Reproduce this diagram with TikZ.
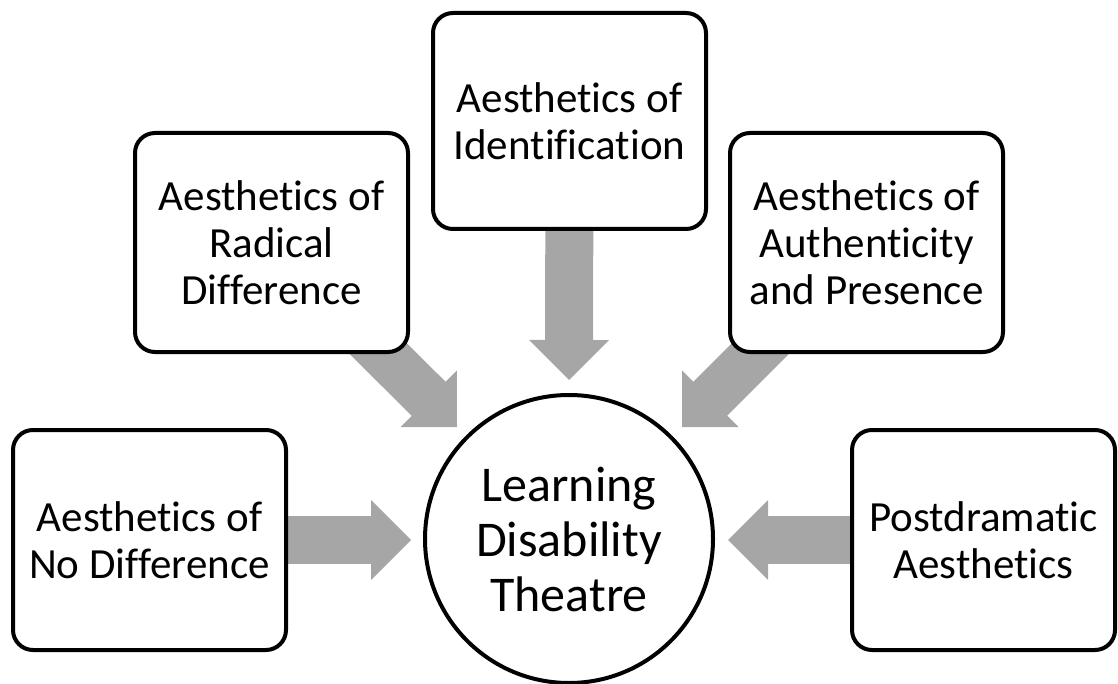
\documentclass[tikz,border=0pt]{standalone}
\usepackage{fontspec}
\setmainfont[Ligatures=NoCommon]{Carlito}
\usetikzlibrary{calc,backgrounds}
\definecolor{arrowgray}{HTML}{A6A6A6}
\tikzset{
  box/.style={draw=black, line width=4pt, rounded corners=20pt, fill=white,
    align=center, inner sep=0pt, font=\fontsize{43}{47}\selectfont},
  hub/.style={draw=black, line width=4pt, circle, fill=white, minimum size=288pt,
    align=center, inner sep=0pt, font=\fontsize{50}{55}\selectfont},
  shaft/.style={draw=arrowgray, line width=48pt},
  head/.style={fill=arrowgray},
}
\newcommand\blockarrow[2]{%
  \coordinate (ba) at ($(#2)!40pt!(#1)$);
  \coordinate (bs) at ($(#2)!38pt!(#1)$);
  \path[shaft] (#1) -- (bs);
  \fill[head] (#2) -- ($(ba)!40pt!90:(#2)$) -- ($(ba)!40pt!-90:(#2)$) -- cycle;
}
\begin{document}
\begin{tikzpicture}[x=1pt,y=-1pt]
\useasboundingbox (0,0) rectangle (1118,684);
\node[hub] (ldt) at (569,539) {Learning\\Disability\\Theatre};
\node[box, minimum width=273pt, minimum height=216pt] (ident) at (569.5,121) {Aesthetics of\\Identification};
\node[box, minimum width=273pt, minimum height=219pt] (radical) at (271.5,242.5) {Aesthetics of\\Radical\\Difference};
\node[box, minimum width=273pt, minimum height=219pt] (auth) at (866.5,242.5) {Aesthetics of\\Authenticity\\and Presence};
\node[box, minimum width=273pt, minimum height=220pt] (nodiff) at (149.5,540) {Aesthetics of\\No Difference};
\node[box, minimum width=263pt, minimum height=220pt] (postd) at (983.5,540) {Postdramatic\\Aesthetics};
\coordinate (tI) at (569,380);
\coordinate (tR) at (457,427);
\coordinate (tA) at (682,427);
\coordinate (tN) at (411,540);
\coordinate (tP) at (728,540);
\begin{pgfonlayer}{background}
  \blockarrow{ident.center}{tI}
  \blockarrow{radical.center}{tR}
  \blockarrow{auth.center}{tA}
  \blockarrow{nodiff.center}{tN}
  \blockarrow{postd.center}{tP}
\end{pgfonlayer}
\end{tikzpicture}
\end{document}
